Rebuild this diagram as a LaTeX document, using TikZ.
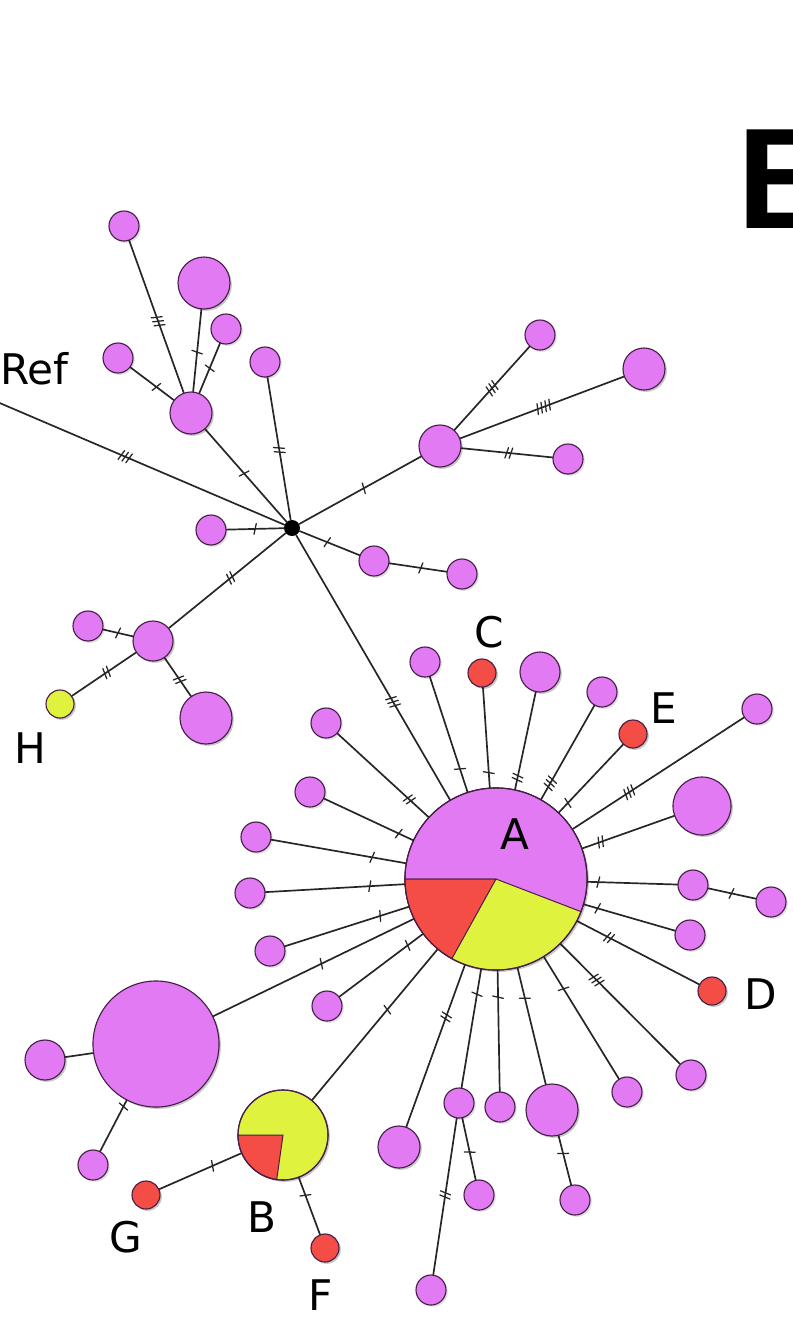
\documentclass[tikz,border=0pt]{standalone}
\usepackage{fontspec}
\newfontfamily\labelfont{DejaVu Sans}
\newfontfamily\panelfont{Liberation Sans}
\usetikzlibrary{decorations.markings,shadows}

\definecolor{hapviolet}{RGB}{226,122,244}
\definecolor{hapred}{RGB}{243,77,70}
\definecolor{hapyellow}{RGB}{222,242,62}
\definecolor{hapedge}{RGB}{70,30,70}

\tikzset{
    hap/.style = {
        circle,
        draw = hapedge,
        fill = hapviolet,
        line width = 0.8pt,
        inner sep = 0pt,
        minimum size = #1*0.05cm,
        drop shadow = {opacity = 0.25, shadow xshift = 1.3pt, shadow yshift = -1.3pt}
    },
    link/.style = {line width = 1.2pt, draw = black!85},
    mut/.style 2 args = {
        postaction = {decorate, decoration = {markings,
            mark = at position #2 with {
                \foreach \k in {1,...,#1}
                    {\draw[line width = 0.9pt] ({(\k-(#1+1)/2)*3pt-0.9pt},-3.8pt) -- ++(1.8pt,7.6pt);}
            }}}
    },
    tag/.style = {font = \labelfont\fontsize{30}{30}\selectfont, inner sep = 0pt}
}

\begin{document}
\begin{tikzpicture}[%
        x = 0.025cm,
        y = 0.025cm,
        line cap = round
    ]
        \useasboundingbox (0,0) rectangle (792,-1318);

        % Median vector and the free end of the reference branch.
        \node (hub) [circle, fill = black, inner sep = 0pt, minimum size = 0.4cm] at (292,-528) {};
        \coordinate (ref) at (-5,-401);

        % Haplotypes of the upper group.
        \begin{scope}[every node/.style = {hap = 15}]
            \node (t1) at (124,-226) {};
            \node (t2) [hap = 26] at (204,-283) {};
            \node (t3) at (226,-329) {};
            \node (t4) at (118,-358) {};
            \node (t5) [hap = 21] at (191,-413) {};
            \node (t6) at (265,-362) {};
            \node (t7) at (211,-530) {};
            \node (t8) [hap = 21] at (440,-446) {};
            \node (t9) at (540,-335) {};
            \node (t10) [hap = 21] at (644,-369) {};
            \node (t11) at (568,-459) {};
            \node (t12) at (374,-561) {};
            \node (t13) at (462,-574) {};
            \node (t14) [hap = 20] at (153,-641) {};
            \node (t15) at (88,-626) {};
            \node (H) [hap = 14, fill = hapyellow] at (60,-704) {};
            \node (t16) [hap = 26] at (206,-718) {};
        \end{scope}

        % Haplotypes around A and B.
        \begin{scope}[every node/.style = {hap = 15}]
            \node (A) [hap = 91, fill = hapyellow] at (496,-879) {};
            \node (a1) at (425,-662) {};
            \node (C) [hap = 14, fill = hapred] at (482,-673) {};
            \node (a3) [hap = 20] at (540,-672) {};
            \node (a4) at (602,-692) {};
            \node (E) [hap = 14, fill = hapred] at (633,-734) {};
            \node (a6) at (757,-709) {};
            \node (a7) [hap = 29] at (702,-806) {};
            \node (a8) at (693,-885) {};
            \node (a9) at (771,-902) {};
            \node (a10) at (690,-935) {};
            \node (D) [hap = 14, fill = hapred] at (712,-991) {};
            \node (a12) at (691,-1075) {};
            \node (a13) at (627,-1092) {};
            \node (a14) [hap = 26] at (552,-1110) {};
            \node (a15) at (575,-1200) {};
            \node (a16) at (500,-1107) {};
            \node (a17) at (459,-1103) {};
            \node (a18) at (479,-1195) {};
            \node (a19) at (431,-1290) {};
            \node (a20) [hap = 21] at (399,-1147) {};
            \node (B) [hap = 45, fill = hapyellow] at (283,-1135) {};
            \node (a22) at (327,-1006) {};
            \node (a23) [hap = 63] at (156,-1044) {};
            \node (a24) at (270,-951) {};
            \node (a25) at (250,-893) {};
            \node (a26) at (256,-837) {};
            \node (a27) at (310,-792) {};
            \node (a28) at (326,-723) {};
            \node (a29) [hap = 20] at (45,-1060) {};
            \node (a30) at (93,-1165) {};
            \node (G) [hap = 14, fill = hapred] at (146,-1195) {};
            \node (F) [hap = 14, fill = hapred] at (325,-1248) {};
        \end{scope}

        % Pie slices of A and B.
        \filldraw[fill = hapviolet, draw = hapedge, line width = 0.7pt] (A.center) -- ++(-21:2.275cm)
            arc[start angle = -21, end angle = 180, radius = 2.275cm] -- cycle;
        \filldraw[fill = hapred, draw = hapedge, line width = 0.7pt] (A.center) -- ++(180:2.275cm)
            arc[start angle = 180, end angle = 241, radius = 2.275cm] -- cycle;
        \draw[hapedge, line width = 0.8pt] (A.center) circle[radius = 2.275cm];
        \filldraw[fill = hapred, draw = hapedge, line width = 0.7pt] (B.center) -- ++(180:1.125cm)
            arc[start angle = 180, end angle = 262, radius = 1.125cm] -- cycle;
        \draw[hapedge, line width = 0.8pt] (B.center) circle[radius = 1.125cm];

        % Links of the upper group, with their mutations.
        \draw[link, mut = {3}{0.45}] (ref) -- (hub);
        \draw[link, mut = {3}{0.53}] (t1) -- (t5);
        \draw[link, mut = {1}{0.52}] (t2) -- (t5);
        \draw[link, mut = {1}{0.5}] (t3) -- (t5);
        \draw[link, mut = {1}{0.6}] (t4) -- (t5);
        \draw[link, mut = {1}{0.48}] (t5) -- (hub);
        \draw[link, mut = {2}{0.51}] (t6) -- (hub);
        \draw[link, mut = {1}{0.5}] (t7) -- (hub);
        \draw[link, mut = {1}{0.53}] (hub) -- (t8);
        \draw[link, mut = {3}{0.5}] (t9) -- (t8);
        \draw[link, mut = {4}{0.49}] (t10) -- (t8);
        \draw[link, mut = {2}{0.52}] (t8) -- (t11);
        \draw[link, mut = {1}{0.46}] (hub) -- (t12);
        \draw[link, mut = {1}{0.55}] (t12) -- (t13);
        \draw[link, mut = {2}{0.53}] (t14) -- (hub);
        \draw[link, mut = {1}{0.5}] (t15) -- (t14);
        \draw[link, mut = {2}{0.54}] (H) -- (t14);
        \draw[link, mut = {2}{0.57}] (t14) -- (t16);
        \draw[link, mut = {3}{0.63}] (hub) -- (A);

        % Links around A and B.
        \draw[link, mut = {1}{0.8}] (a1) -- (A);
        \draw[link, mut = {1}{0.85}] (C) -- (A);
        \draw[link, mut = {2}{0.88}] (a3) -- (A);
        \draw[link, mut = {3}{0.83}] (a4) -- (A);
        \draw[link, mut = {1}{0.86}] (E) -- (A);
        \draw[link, mut = {3}{0.67}] (a6) -- (A);
        \draw[link, mut = {2}{0.8}] (a7) -- (A);
        \draw[link, mut = {1}{0.88}] (a8) -- (A);
        \draw[link, mut = {1}{0.49}] (a8) -- (a9);
        \draw[link, mut = {1}{0.85}] (a10) -- (A);
        \draw[link, mut = {2}{0.74}] (D) -- (A);
        \draw[link, mut = {3}{0.7}] (a12) -- (A);
        \draw[link, mut = {1}{0.74}] (a13) -- (A);
        \draw[link, mut = {1}{0.74}] (a14) -- (A);
        \draw[link, mut = {1}{0.36}] (a14) -- (a15);
        \draw[link, mut = {1}{0.78}] (a16) -- (A);
        \draw[link, mut = {1}{0.79}] (a17) -- (A);
        \draw[link, mut = {1}{0.55}] (a17) -- (a18);
        \draw[link, mut = {2}{0.49}] (a17) -- (a19);
        \draw[link, mut = {2}{0.68}] (a20) -- (A);
        \draw[link, mut = {1}{0.6}] (B) -- (A);
        \draw[link, mut = {1}{0.82}] (a22) -- (A);
        \draw[link, mut = {1}{0.54}] (a23) -- (A);
        \draw[link, mut = {1}{0.77}] (a24) -- (A);
        \draw[link, mut = {1}{0.75}] (a25) -- (A);
        \draw[link, mut = {1}{0.75}] (a26) -- (A);
        \draw[link, mut = {1}{0.84}] (a27) -- (A);
        \draw[link, mut = {2}{0.79}] (a28) -- (A);
        \draw[link] (a29) -- (a23);
        \draw[link, mut = {1}{0.88}] (a30) -- (a23);
        \draw[link, mut = {1}{0.65}] (G) -- (B);
        \draw[link, mut = {1}{0.31}] (B) -- (F);

        % Letters.
        \node (labRef) [tag, anchor = base west] at (0,-384) {Ref};
        \node (labA) [tag] at (515,-834) {A};
        \node (labB) [tag] at (262,-1217) {B};
        \node (labC) [tag] at (489,-632) {C};
        \node (labD) [tag] at (761,-994) {D};
        \node (labE) [tag] at (664,-708) {E};
        \node (labF) [tag] at (321,-1295) {F};
        \node (labG) [tag] at (126,-1237) {G};
        \node (labH) [tag] at (30,-748) {H};
        \node (panel) [anchor = base west, inner sep = 0pt,
            font = \panelfont\bfseries\fontsize{102}{102}\selectfont] at (737,-228) {B};
    \end{tikzpicture}
\end{document}
